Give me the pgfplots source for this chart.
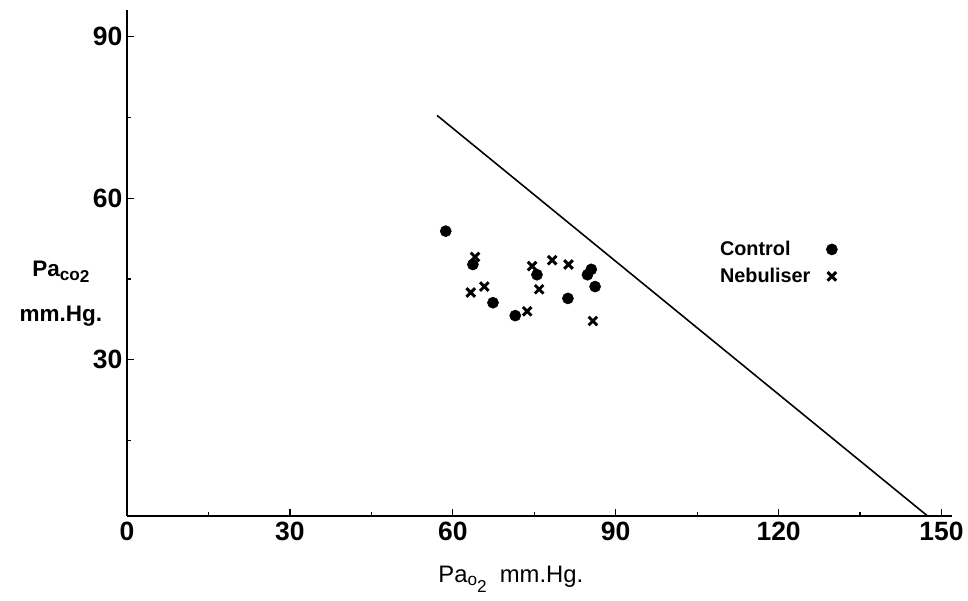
\documentclass[border=0pt]{standalone}
\usepackage{fontspec}
\setmainfont{Liberation Sans}
\usepackage{pgfplots}
\pgfplotsset{compat=1.18}
\newcommand\sub[2]{\raisebox{-#1}{\fontsize{13}{13}\selectfont #2}}

\begin{document}
\begin{tikzpicture}
  \begin{axis}[
    name=ax,
    scale only axis,
    width=624pt, height=382.5pt,
    xmin=0, xmax=152, ymin=1, ymax=95,
    axis x line=bottom, axis y line=left,
    axis line style={line width=1.3pt, -},
    xtick={0,30,60,90,120,150},
    ytick={30,60,90},
    minor xtick={15,45,75,105,135},
    minor ytick={15,45,75},
    tick style={black, line width=1pt},
    major tick length=5pt, minor tick length=3pt,
    tick align=inside,
    /pgf/number format/assume math mode=true,
    ticklabel style={font=\fontsize{20}{22}\selectfont\bfseries},
    xticklabel style={yshift=-1pt},
    xlabel={Pa\sub{3pt}{o}\sub{8pt}{2}\ \ mm.Hg.},
    xlabel style={font=\fontsize{18}{20}\selectfont, at={(axis description cs:0.465,-0.125)}, anchor=center},
    ylabel={Pa\sub{3pt}{\bfseries co\sub{2pt}{2}}\\[14pt]mm.Hg.},
    ylabel style={font=\fontsize{17}{20}\selectfont\bfseries, rotate=-90, align=center, at={(axis description cs:-0.08,0.44)}, anchor=center},
    legend plot pos=right,
    legend style={draw=none, fill=none, at={(axis description cs:0.78,0.5)}, anchor=center,
      font=\fontsize{15}{17}\selectfont\bfseries, row sep=4pt, legend cell align=left,
      nodes={inner xsep=12pt}},
    clip=false,
  ]
  \addplot[only marks, mark=*, mark size=4.2pt, black] coordinates {
    (58.7,53.9) (63.7,47.7) (67.4,40.6) (71.5,38.2) (75.5,45.8)
    (81.2,41.4) (84.8,45.8) (85.5,46.8) (86.2,43.6)
  };
  \addplot[only marks, mark=x, mark size=4.6pt, line width=2.2pt, black] coordinates {
    (64.1,49.1) (63.3,42.5) (65.8,43.6) (73.7,39.0) (74.6,47.4)
    (75.9,43.1) (78.3,48.5) (81.3,47.7) (85.8,37.2)
  };
  \addplot[black, line width=1.2pt, forget plot] coordinates {(57.1,75.4) (147.4,1)};
  \legend{Control, Nebuliser}
  \end{axis}
  \useasboundingbox ([xshift=-96pt,yshift=-63.75pt]ax.south west) rectangle ([xshift=6pt,yshift=7.5pt]ax.north east);
\end{tikzpicture}
\end{document}
